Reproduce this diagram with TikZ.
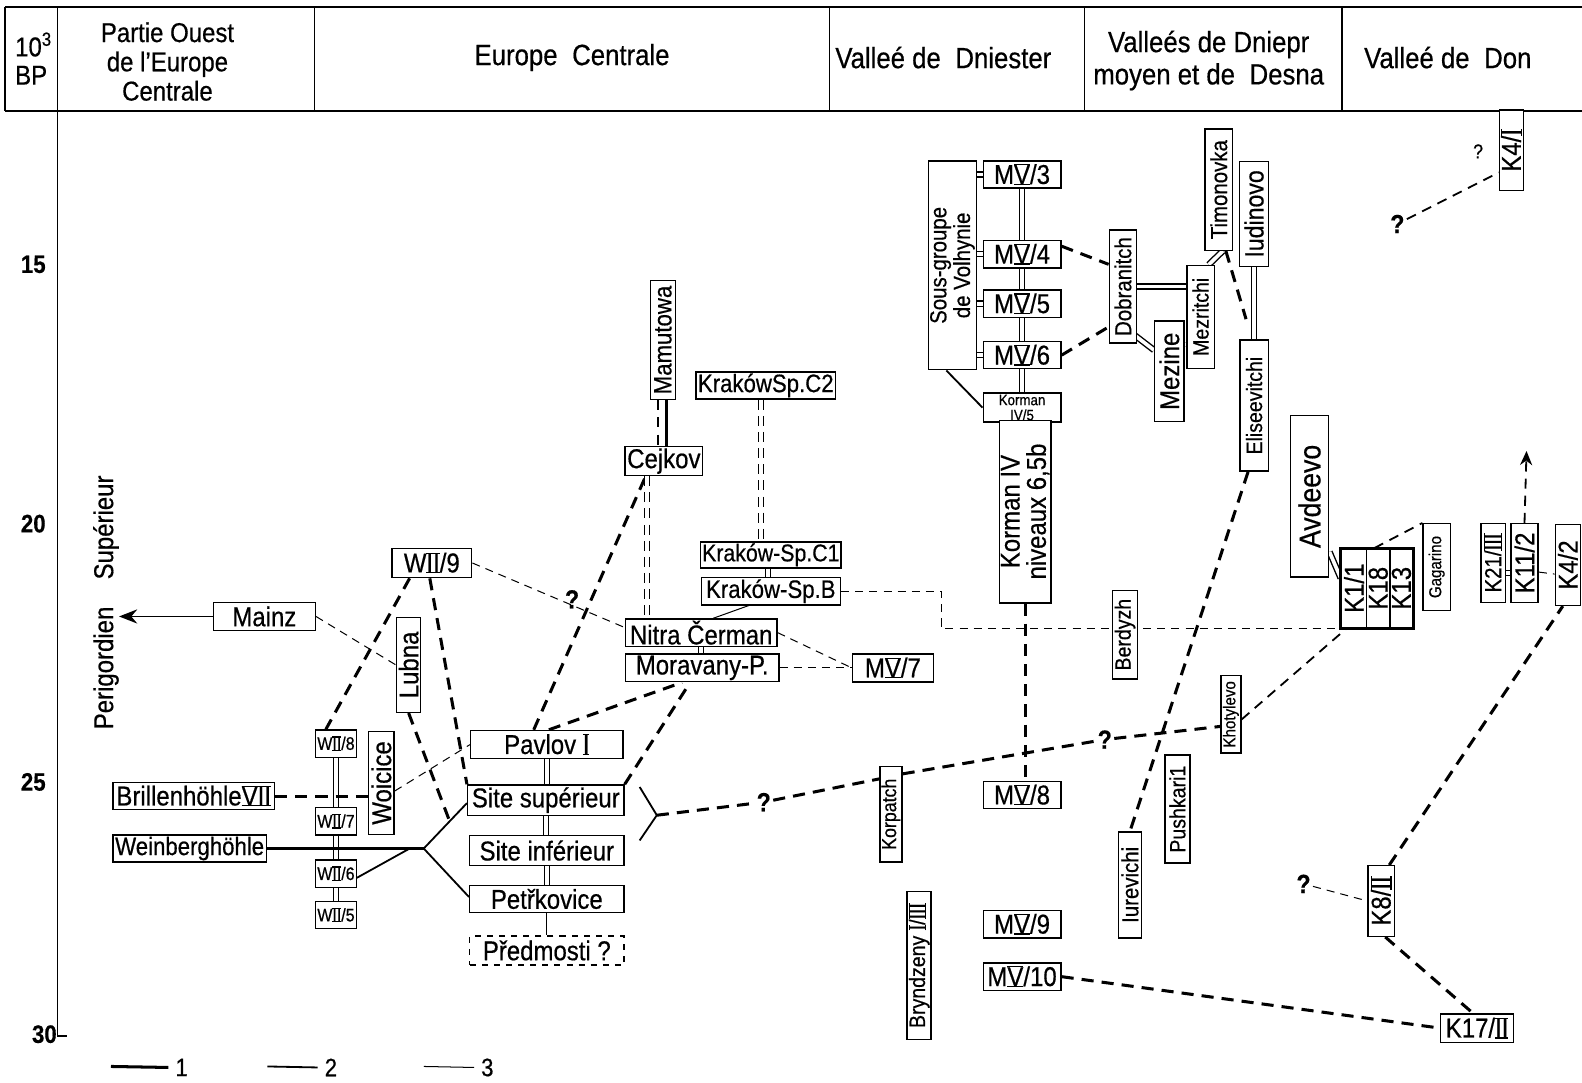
\documentclass[tikz,border=0pt]{standalone}
\usepackage{fontspec}
\setmainfont{Liberation Sans}[FakeStretch=0.88, FakeBold=0.5]
\usetikzlibrary{arrows.meta,positioning,calc,fit,backgrounds}

% roman numerals with bars above and below
\newcommand{\rn}[1]{\sbox0{#1}\rlap{\rule[-0.5pt]{\wd0}{0.6pt}}\rlap{\rule[\dimexpr\ht0-0.1pt\relax]{\wd0}{0.6pt}}\usebox0}

\begin{document}
\begin{tikzpicture}[
    x=0.5pt, y=-0.5pt,
    % --- STYLES ---
    site/.style={draw, fill=white, line width=0.7pt, inner sep=0.8pt,
        align=center, font=\fontsize{13.5}{14}\selectfont},
    vsite/.style={site, rotate=90},
    bx/.style 2 args={minimum width=#1*0.5pt, minimum height=#2*0.5pt},
    fsz/.style={font=\fontsize{#1}{#1}\selectfont},
    head/.style={align=center, font=\fontsize{14.5}{16}\selectfont},
    qmark/.style={inner sep=1pt, font=\fontsize{13}{13}\selectfont\bfseries},
    frame/.style={line width=0.7pt},
    thick1/.style={line width=1.5pt},
    med2/.style={line width=0.9pt},
    thin3/.style={line width=0.5pt},
    dash1/.style={thick1, dash pattern=on 6pt off 4pt},
    dash2/.style={med2, dash pattern=on 5pt off 3.5pt},
    dash3/.style={thin3, dash pattern=on 4pt off 3pt},
    twin/.style={double, double distance=1.8pt, line width=0.7pt}
]
\useasboundingbox (0,0) rectangle (1568,1073);

% ===== 1. HEADER & AXIS =====
\draw[frame] (5,7) -- (1580,7) (5,110) -- (1580,110) (5,7) -- (5,110);
\foreach \xcol in {312,822,1075,1330}
    \draw[frame] (\xcol,7) -- (\xcol,110);
\draw[frame] (57,7) -- (57,1027) -- (66,1027);

\node[align=left, anchor=west, font=\fontsize{13.5}{14}\selectfont] (hbp) at (8,58) {10\textsuperscript{3}\\BP};
\node[head, font=\fontsize{13.5}{14.5}\selectfont] (hwest) at (166,61) {Partie Ouest\\de l'Europe\\Centrale};
\node[head] (hcen) at (567,57) {Europe\enspace Centrale};
\node[head] (hdnies) at (935,57) {Valleé de\enspace Dniester};
\node[head] (hdniep) at (1198,60) {Valleés de Dniepr\\moyen et de\enspace Desna};
\node[head] (hdon) at (1435,57) {Valleé de\enspace Don};

\foreach \yr/\ypos in {15/262, 20/519, 25/775}
    \node[font=\fontsize{12.5}{12.5}\selectfont\bfseries] (t\yr) at (33,\ypos) {\yr};
\node[font=\fontsize{12.5}{12.5}\selectfont\bfseries] (t30) at (44,1025) {30};
\node[rotate=90, font=\fontsize{13.5}{13.5}\selectfont] (perig) at (105,597) {Perigordien\quad Supérieur};

% ===== 2. PARTIE OUEST / EUROPE CENTRALE =====
\node[site, bx={101}{28}] (mainz) at (262,611) {Mainz};
\node[site, bx={79}{29}] (w9) at (428,558) {W\rn{II}/9};
\node[vsite, bx={94}{24}] (lubna) at (405,659) {Lubna};
\node[vsite, bx={102}{25}] (woicice) at (378,776) {Woicice};
\node[site, bx={37}{27}, fsz=9] (w8) at (333,737) {W\rn{II}/8};
\node[site, bx={37}{27}, fsz=9] (w7) at (333,814) {W\rn{II}/7};
\node[site, bx={37}{27}, fsz=9] (w6) at (333,866) {W\rn{II}/6};
\node[site, bx={37}{27}, fsz=9] (w5) at (333,907) {W\rn{II}/5};
\node[site, bx={160}{27}] (brill) at (192,789) {Brillenhöhle\rn{VII}};
\node[site, bx={152}{27}, fsz=12.5] (weinb) at (188,841) {Weinberghöhle};

\node[site, bx={151}{28}] (pavlov) at (542,738) {Pavlov \rn{I}};
\node[site, bx={155}{30}] (sitesup) at (541,793) {Site supérieur};
\node[site, bx={153}{30}] (siteinf) at (542,843) {Site inférieur};
\node[site, bx={153}{27}] (petr) at (542,891) {Petřkovice};
\node[site, bx={153}{29}, dashed] (predm) at (542,942) {Předmosti ?};

\node[site, bx={77}{27}] (cejkov) at (658,457) {Cejkov};
\node[vsite, bx={118}{25}, fsz=12.5] (mamut) at (657,337) {Mamutowa};
\node[site, bx={138}{26}, fsz=12.5] (krC2) at (759,382) {KrakówSp.C2};
\node[site, bx={138}{26}, fsz=12] (krC1) at (764,550) {Kraków-Sp.C1};
\node[site, bx={138}{27}, fsz=12.5] (krB) at (764,586) {Kraków-Sp.B};
\node[site, bx={150}{27}] (nitra) at (695,627) {Nitra Čerman};
\node[site, bx={152}{27}] (morav) at (696,662) {Moravany-P.};
\node[site, bx={80}{28}] (mv7) at (885,662) {M\rn{V}/7};

% ===== 3. DNIESTER =====
\node[vsite, bx={207}{41}, font=\fontsize{11.5}{10.5}\selectfont] (sous) at (944,263) {Sous-groupe\\de Volhynie};
\node[site, bx={77}{27}] (mv3) at (1013,173) {M\rn{V}/3};
\node[site, bx={77}{27}] (mv4) at (1013,252) {M\rn{V}/4};
\node[site, bx={77}{27}] (mv5) at (1013,301) {M\rn{V}/5};
\node[site, bx={77}{27}] (mv6) at (1013,352) {M\rn{V}/6};
\node[site, bx={77}{26}, fsz=7.5] (kor5) at (1013,404) {Korman\\IV/5};
\node[vsite, bx={181}{47}, font=\fontsize{13.5}{13}\selectfont] (korIV) at (1016,507) {Korman IV\\niveaux 6,5b};
\node[site, bx={77}{27}] (mv8) at (1013,788) {M\rn{V}/8};
\node[site, bx={77}{27}] (mv9) at (1013,916) {M\rn{V}/9};
\node[site, bx={77}{27}] (mv10) at (1013,968) {M\rn{V}/10};
\node[vsite, bx={95}{20}, fsz=10] (korpatch) at (883,807) {Korpatch};
\node[vsite, bx={147}{20}, fsz=11] (brynd) at (911,957) {Bryndzeny \rn{I}/\rn{III}};
\node[vsite, bx={88}{25}, fsz=11] (berdyzh) at (1115,629) {Berdyzh};

% ===== 4. DNIEPR / DESNA =====
\node[vsite, bx={112}{27}, fsz=11.5] (dobran) at (1113,284) {Dobranitch};
\node[vsite, bx={100}{29}, fsz=13.5] (mezine) at (1159,368) {Mezine};
\node[vsite, bx={102}{27}, fsz=11] (mezrit) at (1190,314) {Mezritchi};
\node[vsite, bx={120}{27}, fsz=11.5] (timon) at (1208,188) {Timonovka};
\node[vsite, bx={104}{29}, fsz=13] (iudin) at (1243,212) {Iudinovo};
\node[vsite, bx={130}{28}, fsz=11] (elisee) at (1243,402) {Eliseevitchi};
\node[vsite, bx={105}{23}, fsz=11.5] (iurev) at (1120,877) {Iurevichi};
\node[vsite, bx={107}{25}, fsz=11] (pushk) at (1167,802) {Pushkari1};
\node[vsite, bx={77}{20}, fsz=8.5] (khotyl) at (1220,708) {Khotylevo};
\node[vsite, bx={160}{38}, fsz=15] (avdeevo) at (1298,492) {Avdeevo};

% ===== 5. DON =====
\node[vsite, bx={78}{25}] (k1) at (1342,583) {K1/1};
\node[vsite, bx={78}{23}] (k18) at (1366,583) {K18};
\node[vsite, bx={78}{22}] (k13) at (1389,583) {K13};
\node[draw, thick1, fit=(k1)(k13), inner sep=0pt] (kblock) {};
\node[vsite, bx={86}{27}, fsz=8.5] (gagar) at (1424,562) {Gagarino};
\node[vsite, bx={78}{24}, fsz=11.5] (k21) at (1480,558) {K21/\rn{III}};
\node[vsite, bx={78}{27}] (k11) at (1511,558) {K11/2};
\node[vsite, bx={80}{25}] (k42) at (1554,560) {K4/2};
\node[vsite, bx={80}{23}] (k4I) at (1498,149) {K4/\rn{I}};
\node[vsite, bx={70}{26}] (k8) at (1369,893) {K8/\rn{II}};
\node[site, bx={72}{28}] (k17) at (1464,1019) {K17/\rn{II}};

% question marks
\node[qmark] (q1) at (567,594) {?};
\node[qmark] (q2) at (757,795) {?};
\node[qmark] (q3) at (1095,733) {?};
\node[qmark] (q4) at (1292,876) {?};
\node[qmark] (q5) at (1385,222) {?};
\node[qmark, fsz=10] (q6) at (1465,150) {?};

% legend
\node[font=\fontsize{12.5}{12.5}\selectfont] (leg1) at (180,1058) {1};
\node[font=\fontsize{12.5}{12.5}\selectfont] (leg2) at (328,1058) {2};
\node[font=\fontsize{12.5}{12.5}\selectfont] (leg3) at (483,1058) {3};
\coordinate (lg1) at (110,1057);
\coordinate (lg2) at (265,1057);
\coordinate (lg3) at (420,1057);

% helper points
\coordinate (mzend) at (118,611);
\coordinate (fk) at (420,841);
\coordinate (fkup) at ($(sitesup.west)+(0,3)$);
\coordinate (fk6) at ($(fk)+(-14,0)$);
\coordinate (lbend) at ($(fk)!0.6!(fkup)$);
\coordinate (brA) at (634,780);
\coordinate (brV) at (651,808);
\coordinate (brB) at (634,833);
\coordinate (kup) at (1513,447);

% ===== 6. CONNECTIONS =====
\begin{pgfonlayer}{background}
\draw[thick1] (lg1) -- (leg1.west);
\draw[med2] (lg2) -- (leg2.west);
\draw[thin3] (lg3) -- (leg3.west);

% -- Partie Ouest --
\draw[med2, -{Stealth[length=9pt, width=7pt]}] (mainz) -- (mzend);
\draw[dash3] (mainz.east) -- (lubna.north);
\draw[twin] (w8.south) -- (w7.north);
\draw[twin] (w7.south) -- (w6.north);
\draw[twin] (w6.south) -- (w5.north);
\draw[dash1] (brill.east) -- (brill.east -| woicice.north);
\draw[thick1] (weinb.east) -- (fk);
\draw[med2] (fk) -- (fkup);
\draw[med2] (fk) -- ($(petr.west)+(0,-2)$);
\draw[med2] ($(w6.east)+(0,4)$) -- (fk6);
\draw[dash1] ($(w9.south)+(-22,0)$) -- ($(w8.north)+(-10,0)$);
\draw[dash1] ($(w9.south)+(-2,0)$) -- (sitesup.north west);
\draw[dash1] (lubna.west) -- (lbend);
\draw[dash3] ($(woicice.south)+(0,8)$) -- (pavlov.west);
\draw[dash3] (w9.east) -- ($(nitra.west)+(0,-5)$);

% -- Europe Centrale --
\draw[twin] (pavlov.south) -- (pavlov.south |- sitesup.north);
\draw[twin] (sitesup.south) -- (sitesup.south |- siteinf.north);
\draw[twin] (siteinf.south) -- (siteinf.south |- petr.north);
\draw[thin3] (petr.south) -- (petr.south |- predm.north);
\draw[dash1] ($(pavlov.north)+(-13,0)$) -- ($(cejkov.south)+(-18,0)$);
\draw[dash1] ($(pavlov.north)+(2,0)$) -- ($(morav.south)+(-20,0)$);
\draw[dash1] (sitesup.north east) -- ($(morav.south)+(-12,0)$);
\draw[med2] (brA) -- (brV) -- (brB);

\coordinate (cjA) at ($(cejkov.south)+(-17,0)$);
\draw[twin, dash pattern=on 5pt off 3pt] (cjA) -- (cjA |- nitra.north);
\coordinate (mcA) at ($(mamut.west)+(-5,0)$);
\coordinate (mcB) at ($(mamut.west)+(4,0)$);
\draw[dash2] (mcA) -- (mcA |- cejkov.north);
\draw[thick1] (mcB) -- (mcB |- cejkov.north);
\coordinate (kcA) at ($(krC2.south)+(-5,0)$);
\draw[twin, dash pattern=on 5pt off 3pt] (kcA) -- (kcA |- krC1.north);
\coordinate (kcB) at ($(krC1.south)+(-3,0)$);
\draw[twin] (kcB) -- (kcB |- krB.north);
\draw[thin3] ($(krB.south)+(-22,0)$) -- ($(nitra.north)+(12,0)$);
\draw[twin] (nitra.south) -- (nitra.south |- morav.north);
\draw[dash3] (nitra.east) -- (mv7.west);
\draw[dash3] (morav.east) -- (mv7.west);
\draw[dash3] (krB.east) -- ++(99,0) |- (k1.north west);

% -- Dniester --
\foreach \mv in {mv3,mv4,mv5,mv6}
    \draw[twin] (\mv.west -| sous.south) -- (\mv.west);
\draw[twin] (mv3.south) -- (mv4.north);
\draw[twin] (mv4.south) -- (mv5.north);
\draw[twin] (mv5.south) -- (mv6.north);
\draw[twin] (mv6.south) -- (kor5.north);
\draw[med2] ($(sous.west)+(-6,0)$) -- (kor5.west);
\draw[dash1] (korIV.west) -- (korIV.west |- mv8.north);
\draw[dash1] (brV) -- (q2);
\draw[dash1] (q2) -- ($(korpatch.north)+(0,-35)$);
\draw[dash1] ($(korpatch.south)+(0,-40)$) -- (q3);
\draw[dash1] (q3) -- ($(khotyl.north)+(0,12)$);
\draw[dash2] ($(khotyl.south)+(0,5)$) -- ($(k1.north west)+(6,0)$);

% -- Dniepr / Desna --
\draw[dash1] ($(mv4.east)+(0,-8)$) -- ($(dobran.north)+(0,-22)$);
\draw[dash1] (mv6.east) -- ($(dobran.north)+(0,40)$);
\draw[twin] (dobran.south) -- (dobran.south -| mezrit.north);
\draw[twin] ($(dobran.south west)+(-2,-8)$) -- ($(mezine.north)+(0,-21)$);
\draw[twin] ($(mezine.south)+(0,-25)$) -- ($(mezrit.north)+(0,26)$);
\draw[twin] ($(mezrit.east)+(8,0)$) -- ($(timon.west)+(4,0)$);
\coordinate (te) at ($(elisee.east)+(-8,-20)$);
\draw[dash1] ($(timon.west)+(7,0)$) -- (te);
\draw[twin] (iudin.west) -- (iudin.west |- elisee.east);
\draw[dash1] ($(elisee.west)+(-6,0)$) -- (iurev.east);

% -- Don --
\draw[twin] ($(avdeevo.south)+(0,55)$) -- ($(k1.north)+(0,-10)$);
\draw[dash2] ($(k18.east)+(-4,0)$) -- (gagar.north east);
\draw[twin, dash pattern=on 3pt off 2pt] ($(k21.south)+(0,10)$) -- ($(k11.north)+(0,10)$);
\draw[dash3] ($(k11.south)+(0,9)$) -- ($(k42.north)+(0,9)$);
\draw[dash2, -{Stealth[length=7pt, width=6pt]}] (k11.east) -- (kup);
\draw[dash2] (q5) -- ($(k4I.north)+(0,22)$);
\draw[dash1] (mv10.east) -- (k17.west);
\draw[dash1] ($(k8.east)+(8,0)$) -- ($(k42.west)+(-5,0)$);
\draw[dash1] ($(k8.west)+(4,0)$) -- ($(k17.north)+(-4,0)$);
\draw[dash3] (q4) -- (k8.north);
\end{pgfonlayer}

\end{tikzpicture}
\end{document}
